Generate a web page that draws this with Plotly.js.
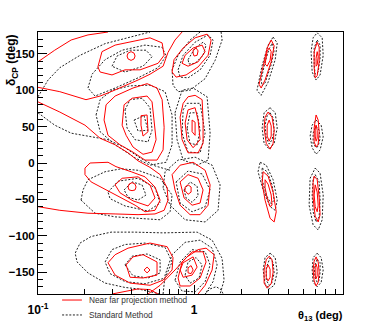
<!DOCTYPE html>
<html>
<head>
<meta charset="utf-8">
<script src="https://cdn.plot.ly/plotly-3.0.1.min.js"></script>
<style>html,body{margin:0;padding:0;background:#fff;}#chart{width:382px;height:327px;}</style>
</head>
<body>
<div id="chart"></div>
<script>
// ---- data: contour polylines as [theta13 (deg), deltaCP (deg)] ----
const seriesNames = ["Near far projection method", "Standard Method"];
const thetaRange = [0.1, 9];
const deltaRange = [-180, 180];
const xTickVals = [0.1, 1];
const xTickText = ["10<sup>-1</sup>", "1"];
const xMinorVals = [0.2,0.3,0.4,0.5,0.6,0.7,0.8,0.9,2,3,4,5,6,7,8];

// Near far projection method (red) - open curves
const nfR1 = [[0.100,139],[0.128,155],[0.163,169],[0.209,176],[0.281,180]];
const nfR2 = [[0.100,104],[0.138,98],[0.203,87],[0.250,92],[0.294,98],[0.361,106],[0.4375,114],[0.522,122],[0.633,133],[0.681,152],[0.755,169],[0.838,180]];
const nfR3 = [[0.100,84],[0.138,70],[0.200,52],[0.250,34],[0.312,25],[0.3775,14],[0.4375,3],[0.522,-6],[0.606,-16],[0.672,-34],[0.681,-51],[0.643,-65],[0.562,-70],[0.4375,-71],[0.312,-70],[0.209,-69],[0.138,-65],[0.100,-60]];
const nfGbot = [[0.298,-180],[0.361,-176],[0.4375,-173],[0.522,-174],[0.588,-180]];
const nfHdiag = [[0.507,-180],[0.606,-168],[0.755,-147],[0.902,-129],[1.061,-119],[1.194,-117],[1.344,-126],[1.305,-147],[1.177,-168],[1.061,-180]];
// Near far - closed curves
const nfAmid = [[0.242,132],[0.257,153],[0.312,162],[0.389,166],[0.522,172],[0.624,165],[0.643,148],[0.588,137],[0.451,128],[0.361,128],[0.298,121],[0.250,125]];
const nfAin = [[0.372,147],[0.3775,151],[0.3947,153],[0.4126,151],[0.4187,147],[0.4126,143],[0.3947,141],[0.3775,143]];
const nfBout = [[0.265,59],[0.273,80],[0.312,92],[0.406,103],[0.500,109],[0.579,103],[0.624,87],[0.643,49],[0.633,18],[0.579,4],[0.485,4],[0.406,15],[0.3355,25],[0.281,38]];
const nfBmid = [[0.346,52],[0.356,80],[0.401,89],[0.500,92],[0.538,84],[0.554,59],[0.571,32],[0.538,15],[0.471,12],[0.406,22],[0.367,38]];
const nfBin = [[0.457,65],[0.500,66],[0.507,43],[0.471,37],[0.457,52]];
const nfEout = [[0.200,-7],[0.2155,0],[0.281,1],[0.316,-5],[0.395,-12],[0.485,-19],[0.562,-33],[0.606,-51],[0.562,-65],[0.485,-67],[0.419,-58],[0.3405,-48],[0.269,-37],[0.219,-26],[0.200,-16]];
const nfEmid = [[0.312,-30],[0.346,-21],[0.4375,-19],[0.522,-30],[0.562,-48],[0.507,-59],[0.406,-52],[0.3355,-41]];
const nfEin = [[0.3775,-33],[0.3833,-29],[0.4005,-27],[0.4187,-29],[0.4249,-33],[0.4187,-37],[0.4005,-38],[0.3833,-37]];
const nfFout = [[0.723,-16],[0.814,-3],[0.986,1],[1.177,-10],[1.267,-30],[1.230,-58],[1.093,-71],[0.943,-71],[0.814,-58],[0.755,-37]];
const nfFmid = [[0.814,-26],[0.915,-16],[1.061,-21],[1.142,-37],[1.093,-55],[0.971,-58],[0.863,-48]];
const nfFin = [[0.876,-33],[0.915,-30],[0.957,-33],[0.957,-40],[0.915,-43],[0.876,-38]];
const nfDout = [[0.814,63],[0.851,82],[0.915,91],[1.015,93],[1.126,87],[1.142,59],[1.142,27],[1.061,14],[0.915,14],[0.838,32]];
const nfDmid = [[0.876,55],[0.915,73],[1.015,76],[1.061,59],[1.093,32],[0.986,21],[0.902,32]];
const nfDin = [[0.971,59],[1.015,56],[1.015,38],[0.971,43]];
const nfCout = [[0.723,125],[0.744,142],[0.851,158],[1.015,172],[1.212,177],[1.286,169],[1.230,148],[1.061,132],[0.889,121],[0.767,118]];
const nfCmid = [[0.838,137],[0.876,148],[0.986,158],[1.126,162],[1.177,153],[1.061,139],[0.915,133]];
const nfCin = [[0.986,155],[1.030,158],[1.061,154],[1.046,148],[1.000,147],[0.986,151]];
const nfGout = [[0.281,-137],[0.312,-126],[0.3775,-117],[0.522,-110],[0.672,-115],[0.733,-130],[0.723,-147],[0.633,-161],[0.522,-168],[0.389,-165],[0.312,-154]];
const nfGmid = [[0.367,-140],[0.406,-129],[0.471,-126],[0.579,-136],[0.579,-154],[0.471,-158],[0.389,-157]];
const nfGin = [[0.478,-147],[0.500,-143],[0.522,-147],[0.500,-151]];
const nfHout = [[0.790,-158],[0.838,-136],[0.971,-122],[1.142,-122],[1.194,-136],[1.093,-158],[0.943,-169],[0.814,-169]];
const nfHmid = [[0.851,-137],[0.986,-129],[1.046,-143],[0.971,-154],[0.851,-157],[0.814,-147]];
const nfHin = [[0.915,-144],[0.957,-141],[0.986,-147],[0.957,-152],[0.915,-151]];
const nfT3out = [[3.12,169],[3.26,161],[3.12,139],[2.85,114],[2.69,103],[2.61,108],[2.77,133],[2.94,158]];
const nfT3in = [[3.03,158],[3.12,153],[3.07,141],[2.94,133],[2.85,136],[2.90,145],[2.94,154]];
const nfT7out = [[6.15,166],[6.33,159],[6.33,139],[6.15,120],[5.97,117],[5.88,131],[5.88,153]];
const nfT7in = [[6.15,153],[6.24,146],[6.15,135],[6.05,133],[6.05,144]];
const nfM3out = [[2.98,70],[3.16,63],[3.26,45],[3.21,27],[3.07,19],[2.90,27],[2.81,48],[2.85,63]];
const nfM3in = [[3.03,59],[3.12,51],[3.12,37],[3.03,30],[2.94,37],[2.94,52]];
const nfM7out = [[6.05,66],[6.24,59],[6.33,43],[6.24,26],[6.05,22],[5.88,29],[5.88,48],[5.97,60]];
const nfM7in = [[6.05,52],[6.15,45],[6.15,34],[6.05,30],[5.97,37],[5.97,47]];
const nfL3out = [[2.77,-12],[2.98,-18],[3.21,-40],[3.36,-67],[3.26,-81],[3.07,-76],[2.85,-51],[2.73,-27]];
const nfL3in = [[2.85,-23],[2.98,-29],[3.12,-44],[3.16,-58],[3.07,-60],[2.94,-48],[2.85,-34]];
const nfL7out = [[5.88,-18],[6.15,-23],[6.33,-47],[6.42,-71],[6.24,-81],[5.97,-73],[5.79,-48],[5.79,-27]];
const nfL7in = [[5.97,-30],[6.15,-40],[6.24,-58],[6.15,-67],[5.97,-60],[5.88,-44]];
const nfB3out = [[3.03,-128],[3.16,-133],[3.21,-150],[3.12,-166],[2.94,-172],[2.81,-165],[2.81,-147],[2.90,-133]];
const nfB3in = [[2.98,-140],[3.07,-146],[3.07,-157],[2.98,-162],[2.90,-157],[2.90,-146]];
const nfB7out = [[6.05,-129],[6.24,-136],[6.33,-150],[6.24,-164],[6.05,-169],[5.88,-162],[5.79,-147],[5.88,-135]];
const nfB7in = [[6.05,-139],[6.15,-144],[6.15,-155],[6.05,-159],[5.97,-154],[5.97,-144]];

// Standard method (black dashed) - open curves
const stAout = [[0.100,91],[0.116,114],[0.138,131],[0.186,148],[0.269,164],[0.389,173],[0.522,180]];
const stBL = [[0.100,69],[0.128,52],[0.163,41],[0.219,36],[0.281,32],[0.361,21],[0.451,7],[0.562,-4],[0.702,-10]];
const stCout = [[1.093,180],[0.943,169],[0.790,148],[0.723,128],[0.733,107],[0.790,98],[0.943,100],[1.177,116],[1.364,141],[1.512,169],[1.490,180]];
const stGout = [[0.606,-180],[0.4375,-173],[0.361,-171],[0.269,-165],[0.209,-151],[0.178,-136],[0.173,-124],[0.186,-110],[0.219,-101],[0.294,-95],[0.419,-95],[0.633,-96],[1.046,-95],[1.305,-106],[1.512,-131],[1.557,-161],[1.468,-180]];
const stHout = [[0.633,-180],[0.652,-154],[0.723,-126],[0.876,-109],[1.093,-106],[1.305,-117],[1.405,-140],[1.324,-163],[1.177,-180]];
const stHump = [[1.177,-180],[1.267,-173],[1.385,-170],[1.490,-174],[1.535,-180]];
// Standard method - closed curves
const stAmid = [[0.209,103],[0.222,122],[0.269,142],[0.346,155],[0.485,162],[0.624,159],[0.662,147],[0.588,131],[0.4375,117],[0.312,103],[0.232,92]];
const stAin = [[0.298,133],[0.321,147],[0.389,155],[0.492,155],[0.538,146],[0.471,133],[0.361,125]];
const stBout = [[0.2355,66],[0.250,87],[0.298,100],[0.389,106],[0.522,107],[0.652,98],[0.723,66],[0.723,25],[0.662,1],[0.522,-3],[0.419,7],[0.312,25],[0.250,43]];
const stBmid = [[0.361,73],[0.389,87],[0.464,89],[0.522,76],[0.538,45],[0.507,29],[0.419,32],[0.372,48]];
const stBin = [[0.4126,59],[0.478,65],[0.507,45],[0.4375,44]];
const stDout = [[0.755,69],[0.838,100],[0.986,103],[1.212,91],[1.267,41],[1.230,4],[1.046,-3],[0.851,4],[0.778,32]];
const stDmid = [[0.851,73],[0.902,82],[1.093,82],[1.177,41],[1.093,14],[0.915,15],[0.838,41]];
const stDin = [[0.902,48],[0.943,69],[1.046,69],[1.093,45],[1.046,25],[0.943,27]];
const stCmid = [[0.790,128],[0.851,148],[1.015,166],[1.230,176],[1.324,169],[1.267,148],[1.093,128],[0.915,117],[0.814,118]];
const stCin = [[0.915,142],[1.015,158],[1.142,166],[1.194,162],[1.142,148],[1.015,137],[0.929,136]];
const stEout = [[0.1887,-51],[0.1943,-37],[0.209,-23],[0.269,-12],[0.3405,-8],[0.4375,-10],[0.606,-21],[0.723,-44],[0.702,-67],[0.606,-78],[0.4375,-76],[0.312,-74],[0.232,-69]];
const stEmid = [[0.281,-40],[0.3257,-25],[0.4375,-21],[0.562,-34],[0.606,-55],[0.507,-66],[0.361,-59],[0.2895,-49]];
const stEin = [[0.356,-37],[0.4005,-26],[0.464,-30],[0.492,-44],[0.4375,-51],[0.3775,-47]];
const stFout = [[0.633,-34],[0.652,-12],[0.790,4],[1.015,8],[1.305,-3],[1.468,-30],[1.425,-65],[1.177,-81],[0.876,-78],[0.702,-58]];
const stFin = [[0.767,-26],[0.915,-11],[1.126,-15],[1.267,-37],[1.177,-60],[0.971,-67],[0.814,-55]];
const stFin2 = [[0.863,-37],[0.943,-26],[1.046,-32],[1.061,-45],[0.971,-54],[0.889,-48]];
const stGmid = [[0.269,-136],[0.298,-119],[0.361,-112],[0.485,-110],[0.652,-116],[0.723,-136],[0.652,-158],[0.485,-166],[0.361,-163],[0.2895,-152]];
const stGin = [[0.361,-140],[0.4005,-128],[0.500,-125],[0.606,-133],[0.606,-151],[0.507,-158],[0.406,-155]];
const stHmid = [[0.755,-161],[0.814,-136],[0.971,-119],[1.177,-122],[1.267,-140],[1.177,-163],[1.015,-177],[0.838,-176]];
const stHin = [[0.876,-154],[0.915,-136],[1.030,-130],[1.126,-140],[1.077,-158],[0.943,-165]];
const stT3out = [[3.21,173],[3.41,165],[3.31,142],[2.98,111],[2.69,93],[2.53,100],[2.73,134],[2.98,162]];
const stT3in = [[3.16,164],[3.26,155],[3.12,135],[2.85,110],[2.73,106],[2.69,114],[2.85,139],[3.03,157]];
const stT7out = [[6.15,179],[6.62,172],[6.72,148],[6.42,121],[6.05,114],[5.71,125],[5.62,153],[5.79,172]];
const stT7in = [[6.15,169],[6.42,162],[6.42,144],[6.24,125],[5.97,122],[5.88,135],[5.88,158]];
const stM3out = [[3.07,76],[3.31,69],[3.41,48],[3.26,27],[3.03,19],[2.81,27],[2.73,48],[2.81,69]];
const stM3in = [[3.07,69],[3.21,62],[3.26,45],[3.16,32],[3.03,26],[2.90,34],[2.85,52],[2.94,65]];
const stM7out = [[6.05,59],[6.52,52],[6.72,36],[6.42,18],[6.05,12],[5.71,21],[5.54,37],[5.71,52]];
const stM7in = [[6.05,51],[6.33,45],[6.42,34],[6.24,23],[6.05,21],[5.79,27],[5.79,41]];
const stL3out = [[2.65,1],[2.90,-3],[3.21,-23],[3.41,-51],[3.31,-65],[3.07,-60],[2.77,-37],[2.57,-12]];
const stL3in = [[2.73,-7],[2.94,-12],[3.16,-30],[3.26,-51],[3.12,-56],[2.90,-44],[2.73,-23]];
const stL7out = [[5.97,-7],[6.42,-14],[6.72,-44],[6.62,-78],[6.24,-92],[5.79,-85],[5.46,-58],[5.54,-21]];
const stL7in = [[5.97,-16],[6.33,-26],[6.42,-51],[6.33,-74],[6.05,-81],[5.79,-67],[5.71,-44],[5.79,-23]];
const stB3out = [[3.07,-124],[3.31,-130],[3.41,-150],[3.26,-168],[3.03,-173],[2.85,-166],[2.77,-147],[2.85,-130]];
const stB3in = [[3.07,-130],[3.21,-137],[3.26,-151],[3.16,-164],[3.03,-168],[2.90,-161],[2.90,-144]];
const stB7out = [[6.15,-124],[6.52,-130],[6.72,-147],[6.52,-164],[6.15,-170],[5.79,-164],[5.71,-147],[5.79,-130]];
const stB7in = [[6.15,-132],[6.42,-137],[6.42,-150],[6.33,-161],[6.15,-164],[5.97,-158],[5.88,-144]];

const nearFarOpen = [nfR1, nfR2, nfR3, nfGbot, nfHdiag];
const nearFarClosed = [nfAmid, nfAin, nfBout, nfBmid, nfBin, nfEout, nfEmid, nfEin, nfFout, nfFmid, nfFin,
  nfDout, nfDmid, nfDin, nfCout, nfCmid, nfCin, nfGout, nfGmid, nfGin, nfHout, nfHmid, nfHin,
  nfT3out, nfT3in, nfT7out, nfT7in, nfM3out, nfM3in, nfM7out, nfM7in, nfL3out, nfL3in, nfL7out, nfL7in,
  nfB3out, nfB3in, nfB7out, nfB7in];
const standardOpen = [stAout, stBL, stCout, stGout, stHout, stHump];
const standardClosed = [stAmid, stAin, stBout, stBmid, stBin, stDout, stDmid, stDin, stCmid, stCin,
  stEout, stEmid, stEin, stFout, stFin, stFin2, stGmid, stGin, stHmid, stHin,
  stT3out, stT3in, stT7out, stT7in, stM3out, stM3in, stM7out, stM7in, stL3out, stL3in, stL7out, stL7in,
  stB3out, stB3in, stB7out, stB7in];

function joinCurves(openList, closedList) {
  const x = [], y = [];
  openList.forEach(c => { c.forEach(p => { x.push(p[0]); y.push(p[1]); }); x.push(null); y.push(null); });
  closedList.forEach(c => {
    c.forEach(p => { x.push(p[0]); y.push(p[1]); });
    x.push(c[0][0]); y.push(c[0][1]);
    x.push(null); y.push(null);
  });
  return {x, y};
}

const nf = joinCurves(nearFarOpen, nearFarClosed);
const st = joinCurves(standardOpen, standardClosed);

const FONT = "Liberation Sans, Arial, Helvetica, sans-serif";
const RED = '#ff0000';
const DASHCOL = '#222222';
const DASH = '2px,1.6px';

const traces = [
  {type:'scatter', mode:'lines', name:seriesNames[1], x:st.x, y:st.y, connectgaps:false,
   line:{color:DASHCOL, width:1, dash:DASH}, hoverinfo:'skip', showlegend:false},
  {type:'scatter', mode:'lines', name:seriesNames[0], x:nf.x, y:nf.y, connectgaps:false,
   line:{color:RED, width:1}, hoverinfo:'skip', showlegend:false}
];

// legend drawn in paper coordinates below the frame
const legendRows = [
  {label:seriesNames[0], color:RED, dash:'solid', y:-0.023},
  {label:seriesNames[1], color:DASHCOL, dash:DASH, y:-0.080}
];
const shapes = legendRows.map(r => ({type:'line', xref:'paper', yref:'paper', x0:0.079, x1:0.144, y0:r.y, y1:r.y,
  line:{color:r.color, width:1, dash:r.dash}}));
const legendTexts = legendRows.map(r => ({text:r.label, xref:'paper', yref:'paper', x:0.162, y:r.y,
  xanchor:'left', yanchor:'middle', showarrow:false, font:{family:FONT, size:8.3, color:'#333'}}));

const layout = {
  width:382, height:327,
  margin:{l:38, r:39, t:32, b:33, pad:0},
  paper_bgcolor:'#ffffff', plot_bgcolor:'#ffffff',
  font:{family:FONT, color:'#000'},
  showlegend:false,
  xaxis:{type:'log', range:[Math.log10(thetaRange[0]), Math.log10(thetaRange[1])],
         tickmode:'array', tickvals:xTickVals, ticktext:xTickText,
         ticks:'inside', ticklen:9, tickwidth:1, tickcolor:'#000', ticklabelstandoff:5,
         minor:{tickmode:'array', tickvals:xMinorVals, ticks:'inside', ticklen:5, tickcolor:'#000', tickwidth:1},
         showline:true, linecolor:'#000', linewidth:1, mirror:true,
         showgrid:false, zeroline:false, automargin:false,
         tickfont:{family:FONT, size:12, weight:'bold', color:'#000'}},
  yaxis:{range:deltaRange, tick0:0, dtick:50,
         ticks:'inside', ticklen:9, tickwidth:1, tickcolor:'#000',
         minor:{dtick:10, ticks:'inside', ticklen:5, tickcolor:'#000', tickwidth:1},
         showline:true, linecolor:'#000', linewidth:1, mirror:true,
         showgrid:false, zeroline:false, automargin:false,
         tickfont:{family:FONT, size:11.5, weight:'bold', color:'#000'}},
  shapes: shapes,
  annotations:[
    {text:'δ<sub>CP</sub> (deg)', xref:'paper', yref:'paper', x:-0.085, y:1, xanchor:'center', yanchor:'top',
     textangle:-90, showarrow:false, font:{family:FONT, size:12, weight:'bold', color:'#000'}},
    {text:'θ<sub>13</sub> (deg)', xref:'paper', yref:'paper', x:1.005, y:-0.084, xanchor:'right', yanchor:'middle',
     showarrow:false, font:{family:FONT, size:11, weight:'bold', color:'#000'}}
  ].concat(legendTexts)
};

Plotly.newPlot('chart', traces, layout, {staticPlot:true, displayModeBar:false});
</script>
</body>
</html>
